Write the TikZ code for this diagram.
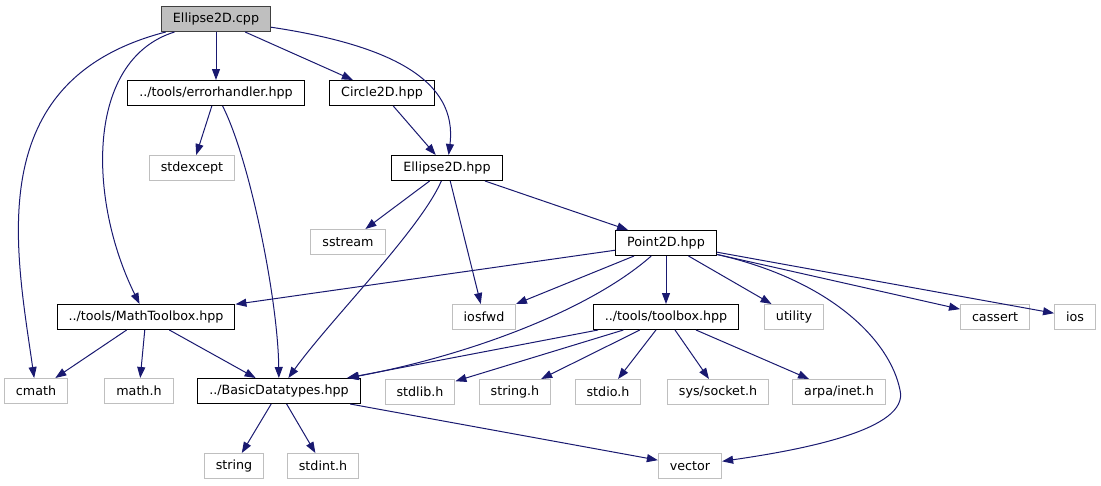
\documentclass[tikz,border=0pt]{standalone}
\usepackage{fontspec}
\setmainfont{DejaVu Sans}
\usetikzlibrary{arrows.meta}
\definecolor{edgeblue}{HTML}{191970}
\definecolor{sysgray}{HTML}{BFBFBF}

\begin{document}
\begin{tikzpicture}[x=1pt, y=1pt,
        every node/.style={font=\fontsize{12.7}{15}\selectfont, inner xsep=11.5pt, inner ysep=0pt, minimum height=25pt},
        hdr/.style={draw=black, line width=1pt},
        sys/.style={draw=sysgray, line width=1pt},
        root/.style={draw=black!75, fill=sysgray, line width=1pt},
        dep/.style={draw=edgeblue, line width=1pt, -{Triangle[length=11pt,width=8pt]}}]
        \useasboundingbox (0,0) rectangle (1101,-485);

        \node[root] (cpp) at (216,-19) {Ellipse2D.cpp};
        \node[hdr] (err) at (216,-93) {../tools/errorhandler.hpp};
        \node[hdr] (circ) at (382,-93) {Circle2D.hpp};
        \node[sys] (stdexc) at (192,-168) {stdexcept};
        \node[hdr] (ehpp) at (447,-168) {Ellipse2D.hpp};
        \node[sys] (sstream) at (348,-242) {sstream};
        \node[hdr] (pt) at (666,-243) {Point2D.hpp};
        \node[hdr] (mtb) at (146,-317) {../tools/MathToolbox.hpp};
        \node[sys] (iosfwd) at (484,-317) {iosfwd};
        \node[hdr] (tbx) at (666,-317) {../tools/toolbox.hpp};
        \node[sys] (utility) at (794,-317) {utility};
        \node[sys] (cassert) at (995,-317) {cassert};
        \node[sys] (ios) at (1075,-317) {ios};
        \node[sys] (cmath) at (36,-391) {cmath};
        \node[sys] (mathh) at (139,-391) {math.h};
        \node[hdr] (bdt) at (279,-391) {../BasicDatatypes.hpp};
        \node[sys] (stdlib) at (420,-392) {stdlib.h};
        \node[sys] (stringh) at (515,-392) {string.h};
        \node[sys] (stdio) at (608,-392) {stdio.h};
        \node[sys] (socket) at (718,-392) {sys/socket.h};
        \node[sys] (inet) at (839,-392) {arpa/inet.h};
        \node[sys] (string) at (234,-466) {string};
        \node[sys] (stdint) at (323,-466) {stdint.h};
        \node[sys] (vector) at (690,-466) {vector};

        \draw[dep] (cpp) .. controls (-20,-80) and (16,-250) .. (cmath);
        \draw[dep] (cpp) .. controls (85,-60) and (88,-200) .. (mtb);
        \draw[dep] (cpp) -- (err);
        \draw[dep] (cpp) -- (circ);
        \draw[dep] (cpp) .. controls (390,-45) and (458,-80) .. (ehpp);
        \draw[dep] (err) -- (stdexc);
        \draw[dep] (err) .. controls (250,-160) and (278,-300) .. (bdt);
        \draw[dep] (circ) -- (ehpp);
        \draw[dep] (ehpp) -- (sstream);
        \draw[dep] (ehpp) .. controls (420,-230) and (330,-320) .. (bdt);
        \draw[dep] (ehpp) -- (iosfwd);
        \draw[dep] (ehpp) -- (pt);
        \draw[dep] (pt) -- (mtb);
        \draw[dep] (pt) -- (iosfwd);
        \draw[dep] (pt) .. controls (590,-310) and (470,-355) .. (bdt);
        \draw[dep] (pt) -- (tbx);
        \draw[dep] (pt) -- (utility);
        \draw[dep] (pt) .. controls (830,-280) and (890,-340) .. (900,-390)
            .. controls (910,-430) and (800,-450) .. (vector);
        \draw[dep] (pt) -- (cassert);
        \draw[dep] (pt) -- (ios);
        \draw[dep] (mtb) -- (cmath);
        \draw[dep] (mtb) -- (mathh);
        \draw[dep] (mtb) -- (bdt);
        \draw[dep] (tbx) -- (bdt);
        \draw[dep] (tbx) -- (stdlib);
        \draw[dep] (tbx) -- (stringh);
        \draw[dep] (tbx) -- (stdio);
        \draw[dep] (tbx) -- (socket);
        \draw[dep] (tbx) -- (inet);
        \draw[dep] (bdt) -- (string);
        \draw[dep] (bdt) -- (stdint);
        \draw[dep] (bdt) -- (vector);

    \end{tikzpicture}
\end{document}
